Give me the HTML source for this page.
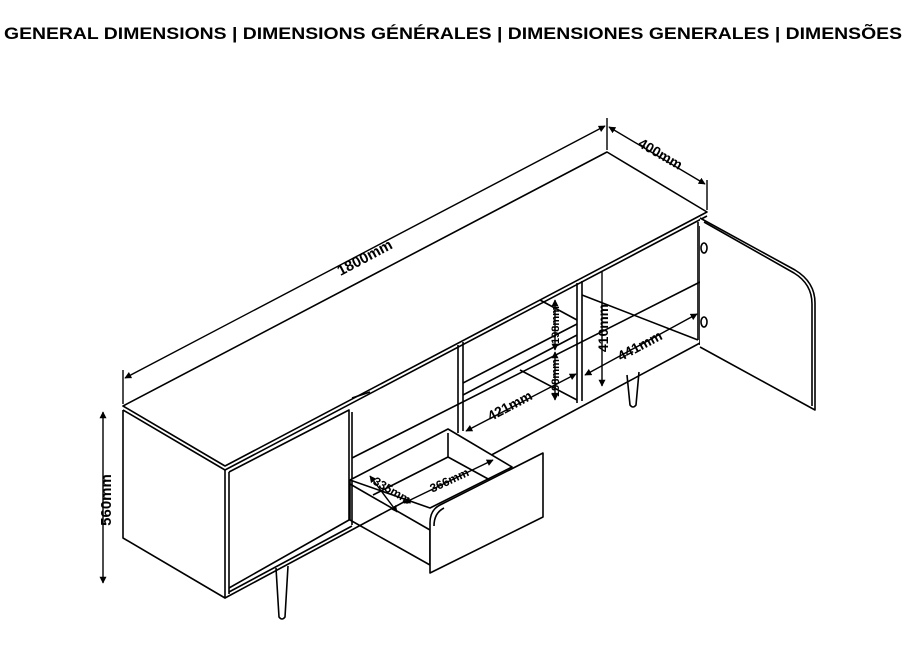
<!DOCTYPE html>
<html><head><style>
html,body{margin:0;padding:0;background:#fff;}
svg{display:block;}
text{font-family:"Liberation Sans",sans-serif;font-weight:bold;fill:#000;}
</style></head><body>
<svg width="906" height="672" viewBox="0 0 906 672" xmlns="http://www.w3.org/2000/svg">
<defs>
<marker id="a" viewBox="0 0 10 10" refX="9" refY="5" markerWidth="5" markerHeight="5" orient="auto-start-reverse"><path d="M0,0 L10,5 L0,10 z" fill="#000"/></marker>
</defs>
<text x="453" y="39" font-size="17" text-anchor="middle" textLength="898" lengthAdjust="spacingAndGlyphs">GENERAL DIMENSIONS | DIMENSIONS GÉNÉRALES | DIMENSIONES GENERALES | DIMENSÕES</text>
<g fill="none" stroke="#000" stroke-width="1.6" stroke-linejoin="round">
<path d="M123,406 L607,152 L707,212 L225,466 Z" fill="#fff"/>
<path d="M123,410 L225,470 L707,216"/>
<path d="M123,410 L123,538 L225,598 L225,470"/>
<path d="M229,472 L229,594"/>
<path d="M229,472 L349,410 L349,520 L229,588"/>
<path d="M225,598 L700,343"/>
<path d="M229,592 L352,526"/>
<path d="M352,412 L352,525"/>
<path d="M352,458 L700,282"/>
<path d="M352,398 L370,392"/>
<path d="M458,345 L458,433 M463,342 L463,431"/>
<path d="M463,395 L577,335 M463,383 L577,324"/>
<path d="M540,300 L577,320 M520,370 L577,400"/>
<path d="M577,283 L577,403 M582,281 L582,401"/>
<path d="M582,295 L698,340"/>
<path d="M698,222 L698,340"/>
<path d="M700,226 L700,345"/>
<path d="M700,218 L795,270 Q815,282 815,303 L815,410 L700,347" fill="#fff"/>
<path d="M704,222 L794,273 Q812,284 812,304 L812,406"/>
<ellipse cx="704" cy="248" rx="3" ry="5"/>
<ellipse cx="704" cy="322" rx="3" ry="5"/>
<path d="M276,568 L279,617 Q282,621 285,617 L288,566"/>
<path d="M627,375 L630,405 Q633,409 636,405 L639,372"/>
<path d="M350,480 L448,429 L512,467 L430,508 Z" fill="#fff"/>
<path d="M350,480 L350,520 L430,565 L430,530 L350,484"/>
<path d="M448,433 L448,457 L373,495 M448,457 L490,480"/>
<path d="M440,505 Q430,510 430,523 L430,573 L543,517 L543,453 Z" fill="#fff"/>
<path d="M434,526 Q434,513 444,508"/>
</g>
<g stroke="#000" stroke-width="1.4" fill="none">
<line x1="125" y1="378" x2="605" y2="126" marker-start="url(#a)" marker-end="url(#a)"/>
<line x1="123" y1="370" x2="123" y2="404"/>
<line x1="607" y1="118" x2="607" y2="150"/>
<line x1="609" y1="127" x2="705" y2="184" marker-start="url(#a)" marker-end="url(#a)"/>
<line x1="707" y1="180" x2="707" y2="210"/>
<line x1="103" y1="412" x2="103" y2="583" marker-start="url(#a)" marker-end="url(#a)"/>
<line x1="466" y1="431" x2="576" y2="374" marker-start="url(#a)" marker-end="url(#a)"/>
<line x1="585" y1="375" x2="697" y2="314" marker-start="url(#a)" marker-end="url(#a)"/>
<line x1="602" y1="272" x2="602" y2="386" marker-end="url(#a)"/>
<line x1="555" y1="300" x2="555" y2="350" marker-start="url(#a)" marker-end="url(#a)"/>
<line x1="555" y1="352" x2="555" y2="400" marker-start="url(#a)" marker-end="url(#a)"/>
<line x1="370" y1="476" x2="397" y2="512" marker-start="url(#a)" marker-end="url(#a)"/>
<line x1="404" y1="503" x2="493" y2="460" marker-start="url(#a)" marker-end="url(#a)"/>
</g>
<g>
<text font-size="15" transform="translate(367,262) rotate(-28)" text-anchor="middle">1800mm</text>
<text font-size="14" transform="translate(658,158) rotate(30)" text-anchor="middle">400mm</text>
<text font-size="15" transform="translate(111,500) rotate(-90)" text-anchor="middle">560mm</text>
<text font-size="14" transform="translate(512,410) rotate(-28)" text-anchor="middle">421mm</text>
<text font-size="14" transform="translate(642,350) rotate(-28)" text-anchor="middle">441mm</text>
<text font-size="14" transform="translate(608,328) rotate(-90)" text-anchor="middle">410mm</text>
<text font-size="11" transform="translate(559,325) rotate(-90)" text-anchor="middle">198mm</text>
<text font-size="11" transform="translate(559,378) rotate(-90)" text-anchor="middle">198mm</text>
<text font-size="12" transform="translate(390,494) rotate(30)" text-anchor="middle">335mm</text>
<text font-size="12" transform="translate(451,484) rotate(-25)" text-anchor="middle">366mm</text>
</g>
</svg>
</body></html>
